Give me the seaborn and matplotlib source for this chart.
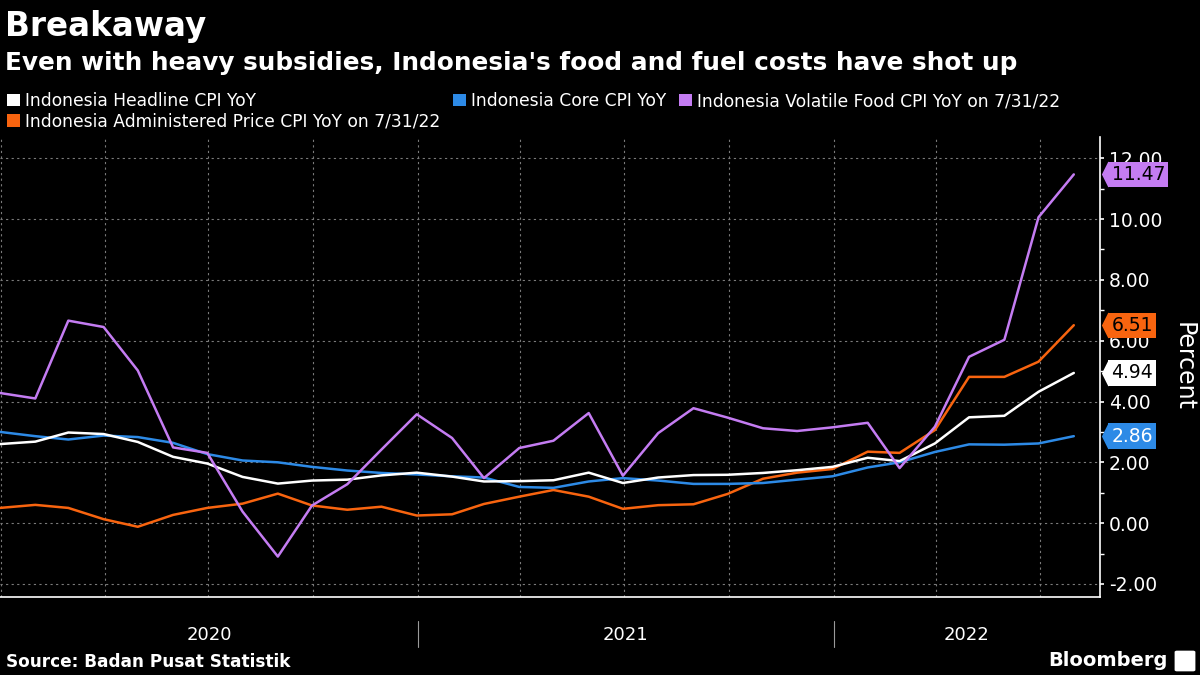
import matplotlib
matplotlib.use("Agg")
import matplotlib.pyplot as plt
import matplotlib.dates as mdates
import matplotlib.transforms as mtransforms
from matplotlib.ticker import MultipleLocator, FuncFormatter, NullFormatter
from matplotlib.patches import Patch, FancyBboxPatch
from matplotlib.path import Path
import seaborn as sns
import pandas as pd
import datetime as dt

# month-end readings, Dec 2019 .. Jul 2022
dates = pd.date_range("2020-01-01", periods=32, freq="MS") - pd.Timedelta(days=1)

headline = [2.60, 2.68, 2.98, 2.93, 2.67, 2.18, 1.96, 1.52, 1.30, 1.40, 1.43, 1.57, 1.66,
            1.53, 1.37, 1.38, 1.41, 1.66, 1.32, 1.50, 1.58, 1.59, 1.65, 1.74, 1.85,
            2.15, 2.04, 2.62, 3.48, 3.53, 4.32, 4.94]
core = [3.00, 2.86, 2.75, 2.88, 2.83, 2.64, 2.27, 2.06, 2.00, 1.85, 1.73, 1.65, 1.60,
        1.54, 1.50, 1.19, 1.16, 1.37, 1.48, 1.40, 1.29, 1.29, 1.32, 1.43, 1.54,
        1.83, 2.00, 2.34, 2.59, 2.58, 2.62, 2.86]
administered = [0.50, 0.60, 0.50, 0.13, -0.12, 0.27, 0.50, 0.64, 0.97, 0.58, 0.44, 0.54, 0.25,
                0.29, 0.63, 0.87, 1.09, 0.87, 0.47, 0.59, 0.62, 0.96, 1.46, 1.66, 1.78,
                2.35, 2.31, 3.06, 4.81, 4.81, 5.31, 6.51]
volatile = [4.28, 4.10, 6.66, 6.45, 5.02, 2.49, 2.31, 0.38, -1.10, 0.58, 1.28, 2.42, 3.58,
            2.80, 1.48, 2.47, 2.71, 3.62, 1.56, 2.96, 3.78, 3.47, 3.12, 3.03, 3.15,
            3.30, 1.81, 3.17, 5.47, 6.03, 10.06, 11.47]

names = ["Indonesia Headline CPI YoY",
         "Indonesia Core CPI YoY",
         "Indonesia Volatile Food CPI YoY on 7/31/22",
         "Indonesia Administered Price CPI YoY on 7/31/22"]
series = [headline, core, volatile, administered]
colors = ["#ffffff", "#2d8ae6", "#c47cf2", "#f8640f"]
tag_text = ["black", "white", "black", "black"]
years = [2020, 2021, 2022]

df = pd.concat([pd.DataFrame({"date": dates, "value": v, "series": n})
                for n, v in zip(names, series)], ignore_index=True)
palette = dict(zip(names, colors))

sns.set_style("dark")
plt.rcParams["font.family"] = ["DejaVu Sans"]
plt.rcParams["text.color"] = "white"

fig = plt.figure(figsize=(12, 6.75), dpi=100, facecolor="black")
ax = fig.add_axes([0, 78 / 675, 1100 / 1200, 460 / 675])
ax.set_facecolor("black")

sns.lineplot(data=df, x="date", y="value", hue="series",
             hue_order=[names[3], names[1], names[0], names[2]],
             palette=palette, linewidth=1.8, legend=False, errorbar=None, ax=ax)

xmin = dt.datetime(2019, 12, 31)
xmax = dt.datetime(2022, 8, 23)

# axes styling
for s in ["left", "top"]:
    ax.spines[s].set_visible(False)
for s in ["bottom", "right"]:
    ax.spines[s].set_color("white")
    ax.spines[s].set_linewidth(1.2)

ax.xaxis.set_major_locator(mdates.MonthLocator(bymonth=[1, 4, 7, 10]))
ax.xaxis.set_minor_locator(mdates.MonthLocator())
ax.xaxis.set_major_formatter(NullFormatter())
ax.tick_params(axis="x", which="both", length=4, width=1, color="white", labelbottom=False)

ax.yaxis.tick_right()
ax.yaxis.set_major_locator(MultipleLocator(2))
ax.yaxis.set_minor_locator(MultipleLocator(1))
ax.yaxis.set_major_formatter(FuncFormatter(lambda v, p: f"{v:.2f}"))
ax.tick_params(axis="y", which="major", length=3, width=1.2, pad=3.5, color="white",
               labelcolor="white", labelsize=13.5)
ax.tick_params(axis="y", which="minor", length=3, width=1, color="white")

ax.grid(True, which="major", color="#7a7a7a", linestyle=(0, (2, 3)), linewidth=0.8)
ax.set_xlabel("")
ax.set_ylabel("Percent", rotation=270, color="white", fontsize=17, va="center")
ax.yaxis.set_label_position("right")
ax.yaxis.set_label_coords(1196 / 1100, 0.5)

# year labels under the axis
tr_x = mtransforms.blended_transform_factory(ax.transData, ax.transAxes)
for y in years:
    start = max(dt.datetime(y, 1, 1), xmin)
    end = min(dt.datetime(y + 1, 1, 1), xmax)
    mid = start + (end - start) / 2
    ax.text(mid, -0.083, str(y), transform=tr_x, ha="center", va="center",
            fontsize=13, color="white")
    if y > years[0]:
        ax.plot([dt.datetime(y, 1, 1)] * 2, [-0.052, -0.109], transform=tr_x,
                color="#9a9a9a", lw=0.8, clip_on=False)

# last-value tags on the right
tr_y = mtransforms.blended_transform_factory(ax.transAxes, ax.transData)
notch = Path([(-0.25, 0), (0, 0.5), (0, -0.5), (-0.25, 0)],
             [Path.MOVETO, Path.LINETO, Path.LINETO, Path.CLOSEPOLY])
for vals, c, tc in zip(series, colors, tag_text):
    v = vals[-1]
    ax.text(1.0105, v, f"{v:.2f}", transform=tr_y, ha="left", va="center",
            fontsize=13.5, color=tc, zorder=6, clip_on=False,
            bbox=dict(boxstyle="square,pad=0.17", fc=c, ec="none"))
    ax.plot([1.0073], [v], marker=notch, ms=19, color=c, mec="none",
            transform=tr_y, clip_on=False, zorder=6)

ax.set_xlim(xmin, xmax)
ax.set_ylim(-2.43, 12.7)

# legend
handles = [Patch(facecolor=palette[n], edgecolor="none") for n in names]
order = [0, 3, 1, 2]
fig.legend([handles[i] for i in order], [names[i] for i in order],
           loc="upper left", bbox_to_anchor=(7 / 1200, 1 - 92 / 675), ncol=3,
           frameon=False, fontsize=12.3, labelcolor="white",
           handlelength=0.75, handleheight=0.75, handletextpad=0.3,
           columnspacing=0.75, labelspacing=0.15, borderpad=0, borderaxespad=0)

fig.text(5 / 1200, 1 - 36 / 675, "Breakaway", fontsize=23.5, fontweight="bold",
         color="white", ha="left", va="baseline")
fig.text(5 / 1200, 1 - 70 / 675,
         "Even with heavy subsidies, Indonesia's food and fuel costs have shot up",
         fontsize=17.8, fontweight="bold", color="white", ha="left", va="baseline")
fig.text(6 / 1200, 1 - 662 / 675, "Source: Badan Pusat Statistik", fontsize=12.2,
         fontweight="bold", color="white", ha="left", va="center")
fig.text(1168 / 1200, 1 - 661 / 675, "Bloomberg", fontsize=14, fontweight="bold",
         color="white", ha="right", va="center")
fig.patches.append(FancyBboxPatch((1177 / 1200, 1 - 670 / 675), 16 / 1200, 18 / 675,
                                  boxstyle="round,pad=0.002", fc="white", ec="none",
                                  transform=fig.transFigure, figure=fig))

fig.savefig("out.png", dpi=100, facecolor="black")
